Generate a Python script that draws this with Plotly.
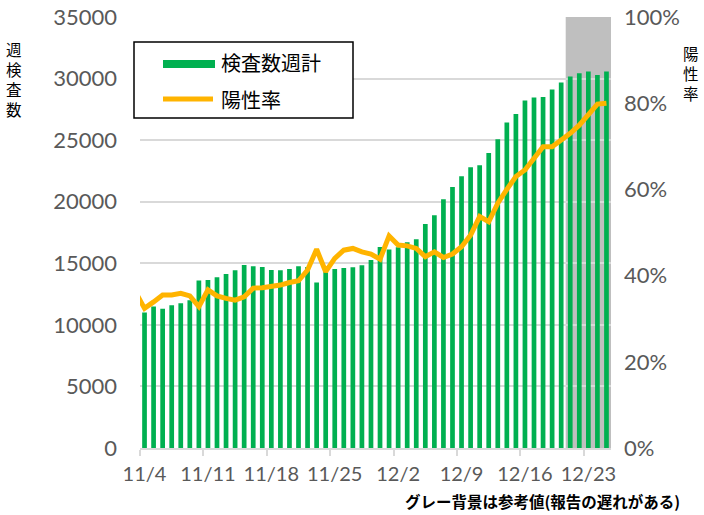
import pandas as pd
import plotly.graph_objects as go

# ---- data ----
dates = pd.date_range("2020-11-03", "2020-12-25", freq="D")
weekly_tests = [None,
    11000, 11500, 11300, 11600, 11750, 12000, 13600, 13650, 13870, 14130,
    14430, 14870, 14760, 14700, 14460, 14430, 14540, 14760, 14700, 13430,
    14300, 14540, 14620, 14680, 14840, 15270, 16330, 16110, 16300, 16710,
    16950, 18200, 18900, 20200, 21200, 22070, 22800, 22960, 23960, 25080,
    26430, 27130, 28220, 28460, 28510, 29110, 29680, 30160, 30440, 30570,
    30300, 30570]
positive_rate = [36.2,
    32.4, 33.9, 35.5, 35.5, 35.9, 35.3, 32.8, 36.7, 35.3, 34.7,
    34.3, 35.1, 37.1, 37.2, 37.4, 37.8, 38.4, 38.8, 41.3, 46.1,
    40.9, 44.0, 45.9, 46.3, 45.5, 45.0, 43.8, 49.2, 47.1, 46.9,
    46.3, 44.4, 45.5, 44.2, 45.0, 46.7, 49.4, 53.7, 52.5, 56.8,
    60.0, 63.0, 64.5, 67.2, 69.9, 69.9, 71.3, 73.0, 74.9, 77.3,
    79.8, 80.0]
tick_dates = ["2020-11-04", "2020-11-11", "2020-11-18", "2020-11-25",
              "2020-12-02", "2020-12-09", "2020-12-16", "2020-12-23"]
tick_labels = ["11/4", "11/11", "11/18", "11/25", "12/2", "12/9", "12/16", "12/23"]
reference_start = "2020-12-20 12:00"
reference_end = "2020-12-25 12:00"

bar_name = "検査数週計"
line_name = "陽性率"
left_title = "週検査数"
right_title = "陽性率"
note_text = "グレー背景は参考値(報告の遅れがある)"

GREEN = "#00B050"
ORANGE = "#FFB400"
GRID = "#D9D9D9"
TICKC = "#595959"
NUM_FONT = "Lato"
JP_FONT = "Noto Sans CJK JP"

fig = go.Figure()
fig.add_trace(go.Bar(x=dates, y=weekly_tests, name=bar_name,
                     marker=dict(color=GREEN, line_width=0)))
fig.add_trace(go.Scatter(x=dates, y=[v / 100 for v in positive_rate], name=line_name,
                         yaxis="y2", mode="lines",
                         line=dict(color=ORANGE, width=5), cliponaxis=True))

fig.add_shape(type="rect", xref="x", yref="y", x0=reference_start, x1=reference_end,
              y0=0, y1=35000, fillcolor="#BFBFBF", line_width=0, layer="below")

# legend box (manual)
def px2paper(px, py):
    return (px - 140) / 471, (448 - py) / 431

bx0, by0 = px2paper(134, 118)
bx1, by1 = px2paper(353, 42)
fig.add_shape(type="rect", xref="paper", yref="paper", x0=bx0, y0=by0, x1=bx1, y1=by1,
              line=dict(color="black", width=1.5), fillcolor="white", layer="above")
gx0, gy0 = px2paper(163, 68)
gx1, gy1 = px2paper(215, 60)
fig.add_shape(type="rect", xref="paper", yref="paper", x0=gx0, y0=gy0, x1=gx1, y1=gy1,
              line_width=0, fillcolor=GREEN, layer="above")
lx0, ly = px2paper(163, 99)
lx1, _ = px2paper(213, 99)
fig.add_shape(type="line", xref="paper", yref="paper", x0=lx0, y0=ly, x1=lx1, y1=ly,
              line=dict(color=ORANGE, width=5), layer="above")
tx, ty1 = px2paper(219, 63)
_, ty2 = px2paper(219, 100)
fig.add_annotation(xref="paper", yref="paper", x=tx, y=ty1, text=bar_name, showarrow=False,
                   xanchor="left", yanchor="middle", font=dict(family=JP_FONT, size=20, color="black"))
fig.add_annotation(xref="paper", yref="paper", x=tx, y=ty2, text=line_name, showarrow=False,
                   xanchor="left", yanchor="middle", font=dict(family=JP_FONT, size=20, color="black"))

# vertical (stacked) axis titles
x, y = px2paper(14, 79)
fig.add_annotation(xref="paper", yref="paper", x=x, y=y, text="<br>".join(left_title),
                   showarrow=False, xanchor="center", yanchor="middle",
                   font=dict(family=JP_FONT, size=15.5, color="black"))
x, y = px2paper(691, 73)
fig.add_annotation(xref="paper", yref="paper", x=x, y=y, text="<br>".join(right_title),
                   showarrow=False, xanchor="center", yanchor="middle",
                   font=dict(family=JP_FONT, size=15.5, color="black"))

nx, ny = px2paper(542, 501)
fig.add_annotation(xref="paper", yref="paper", x=nx, y=ny, text=f"<b>{note_text}</b>",
                   showarrow=False, xanchor="center", yanchor="middle",
                   font=dict(family=JP_FONT, size=15.5, color="black"))

fig.update_layout(
    width=704, height=515,
    margin=dict(l=140, r=93, t=17, b=67, autoexpand=False),
    plot_bgcolor="white", paper_bgcolor="white",
    showlegend=False, bargap=0.48,
    xaxis=dict(type="date", range=["2020-11-03 12:00", reference_end], automargin=False,
               tickmode="array", tickvals=tick_dates, ticktext=tick_labels,
               ticks="", showgrid=False, showline=True, linecolor=GRID, linewidth=1.5,
               ticklabelstandoff=7,
               tickfont=dict(family=NUM_FONT, size=20, color=TICKC),
               minor=dict(ticks="outside", ticklen=6, tickcolor=GRID, tickwidth=1.5,
                          tick0="2020-11-03 12:00", dtick=7 * 86400000, showgrid=False)),
    yaxis=dict(range=[0, 35000], dtick=5000, tickformat="d", automargin=False,
               showgrid=True, gridcolor=GRID, gridwidth=1.5,
               zeroline=False, ticks="", ticklabelstandoff=22,
               tickfont=dict(family=NUM_FONT, size=22, color=TICKC)),
    yaxis2=dict(range=[0, 1], dtick=0.2, tickformat=".0%", overlaying="y", side="right",
                automargin=False, showgrid=False, zeroline=False, ticks="", ticklabelstandoff=12,
                tickfont=dict(family=NUM_FONT, size=22, color=TICKC)),
)

fig.write_html("out.html", config={"displayModeBar": False},
               post_script="document.body.style.margin='0';document.body.style.overflow='hidden';")
